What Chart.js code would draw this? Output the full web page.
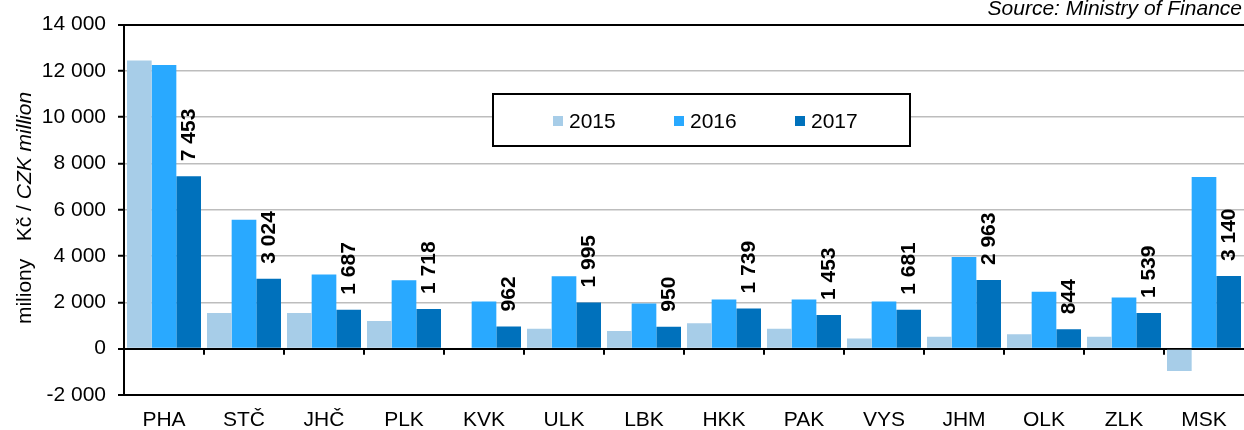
<!DOCTYPE html>
<html>
<head>
<meta charset="utf-8">
<script src="https://cdn.jsdelivr.net/npm/chart.js@4.4.0/dist/chart.umd.min.js"></script>
<style>
  html, body { margin: 0; padding: 0; background: #fff; }
  canvas { display: block; }
</style>
</head>
<body>
<canvas id="regionChart" width="1244" height="430"></canvas>
<script>
// Regional budget balances by year (CZK million)
const regions = ['PHA', 'STČ', 'JHČ', 'PLK', 'KVK', 'ULK', 'LBK', 'HKK', 'PAK', 'VYS', 'JHM', 'OLK', 'ZLK', 'MSK'];
const years = ['2015', '2016', '2017'];
const values2015 = [12450, 1540, 1540, 1200, 0, 860, 760, 1100, 860, 440, 520, 620, 520, -960];
const values2016 = [12260, 5570, 3210, 2960, 2040, 3130, 1950, 2120, 2120, 2040, 3960, 2460, 2210, 7420];
const values2017 = [7453, 3024, 1687, 1718, 962, 1995, 950, 1739, 1453, 1681, 2963, 844, 1539, 3140];
const yMin = -2000;
const yMax = 14000;
const yStep = 2000;
const axisTitle = ['miliony   Kč / ', 'CZK million'];
const sourceNote = 'Source: Ministry of Finance';

const colors = ['#A7CDE8', '#29A9FF', '#0071BC'];
const FONT = '"Liberation Sans", Arial, Helvetica, sans-serif';

function fmt(v) {
    const s = Math.abs(Math.round(v)).toString().replace(/\B(?=(\d{3})+(?!\d))/g, ' ');
    return (v < 0 ? '-' : '') + s;
}

Chart.defaults.font.family = FONT;
Chart.defaults.color = '#000';

// value labels on the 2017 bars, rotated
const barLabels = {
    id: 'barLabels',
    afterDatasetsDraw(chart) {
        const ctx = chart.ctx;
        const meta = chart.getDatasetMeta(2);
        ctx.save();
        ctx.font = 'bold 21px ' + FONT;
        ctx.fillStyle = '#000';
        ctx.textAlign = 'left';
        ctx.textBaseline = 'middle';
        meta.data.forEach((bar, i) => {
            ctx.save();
            ctx.translate(bar.x + 1, bar.y - 15);
            ctx.rotate(-Math.PI / 2);
            ctx.fillText(fmt(values2017[i]), 0, 0);
            ctx.restore();
        });
        ctx.restore();
    }
};

// frame top line, tick marks on the zero line, legend box, axis title, source
const decorations = {
    id: 'decorations',
    afterDraw(chart) {
        const ctx = chart.ctx;
        const x = chart.scales.x;
        const y = chart.scales.y;
        const y0 = y.getPixelForValue(0);

        ctx.save();
        ctx.strokeStyle = '#000';
        ctx.lineWidth = 2;
        ctx.beginPath();
        for (let i = 0; i < regions.length - 1; i++) {
            const bx = Math.round((x.getPixelForValue(i) + x.getPixelForValue(i + 1)) / 2);
            ctx.moveTo(bx, y0);
            ctx.lineTo(bx, y0 + 6);
        }
        ctx.stroke();

        // legend
        const lx = 493, ly = 94, lw = 417, lh = 52;
        ctx.fillStyle = '#fff';
        ctx.fillRect(lx, ly, lw, lh);
        ctx.strokeRect(lx, ly, lw, lh);
        ctx.font = '21px ' + FONT;
        ctx.textBaseline = 'middle';
        ctx.textAlign = 'left';
        years.forEach((yr, i) => {
            const sx = 553 + i * 121;
            ctx.fillStyle = colors[i];
            ctx.fillRect(sx, 116, 10, 10);
            ctx.fillStyle = '#000';
            ctx.fillText(yr, sx + 16, 122);
        });

        // y axis title with italic english part
        ctx.save();
        ctx.translate(31, 208);
        ctx.rotate(-Math.PI / 2);
        ctx.textBaseline = 'alphabetic';
        ctx.font = '21px ' + FONT;
        const w1 = ctx.measureText(axisTitle[0]).width;
        ctx.font = 'italic 21px ' + FONT;
        const w2 = ctx.measureText(axisTitle[1]).width;
        const start = -(w1 + w2) / 2;
        ctx.font = '21px ' + FONT;
        ctx.fillText(axisTitle[0], start, 0);
        ctx.font = 'italic 21px ' + FONT;
        ctx.fillText(axisTitle[1], start + w1, 0);
        ctx.restore();

        // source
        ctx.font = 'italic 21px ' + FONT;
        ctx.textAlign = 'right';
        ctx.textBaseline = 'alphabetic';
        ctx.fillStyle = '#000';
        ctx.fillText(sourceNote, 1242, 15);
        ctx.restore();
    }
};

new Chart(document.getElementById('regionChart'), {
    type: 'bar',
    data: {
        labels: regions,
        datasets: [
            { label: years[0], data: values2015, backgroundColor: colors[0] },
            { label: years[1], data: values2016, backgroundColor: colors[1] },
            { label: years[2], data: values2017, backgroundColor: colors[2] }
        ]
    },
    options: {
        responsive: false,
        animation: false,
        layout: { padding: { top: 19, right: 0, left: 0, bottom: 0 } },
        datasets: { bar: { categoryPercentage: 0.925, barPercentage: 1.0, borderWidth: 0 } },
        plugins: {
            legend: { display: false },
            tooltip: { enabled: false },
            title: { display: false }
        },
        scales: {
            x: {
                position: 'bottom',
                grid: { display: false, drawTicks: false },
                border: { display: true, color: '#000', width: 2 },
                ticks: { font: { size: 21 }, color: '#000', padding: 13, maxRotation: 0 },
                afterFit: s => { s.height = 35; }
            },
            y: {
                min: yMin,
                max: yMax,
                grid: {
                    color: c => (c.tick && [0, yMin, yMax].includes(c.tick.value)) ? '#000' : '#BDBDBD',
                    lineWidth: c => (c.tick && [0, yMin, yMax].includes(c.tick.value)) ? 2 : 1.5,
                    tickColor: '#000',
                    tickLength: 6,
                    tickWidth: 2
                },
                border: { display: true, color: '#000', width: 2 },
                ticks: {
                    stepSize: yStep,
                    font: { size: 21 },
                    color: '#000',
                    padding: 12,
                    callback: v => fmt(v)
                },
                afterFit: s => { s.width = 124; }
            }
        }
    },
    plugins: [barLabels, decorations]
});
</script>
</body>
</html>
